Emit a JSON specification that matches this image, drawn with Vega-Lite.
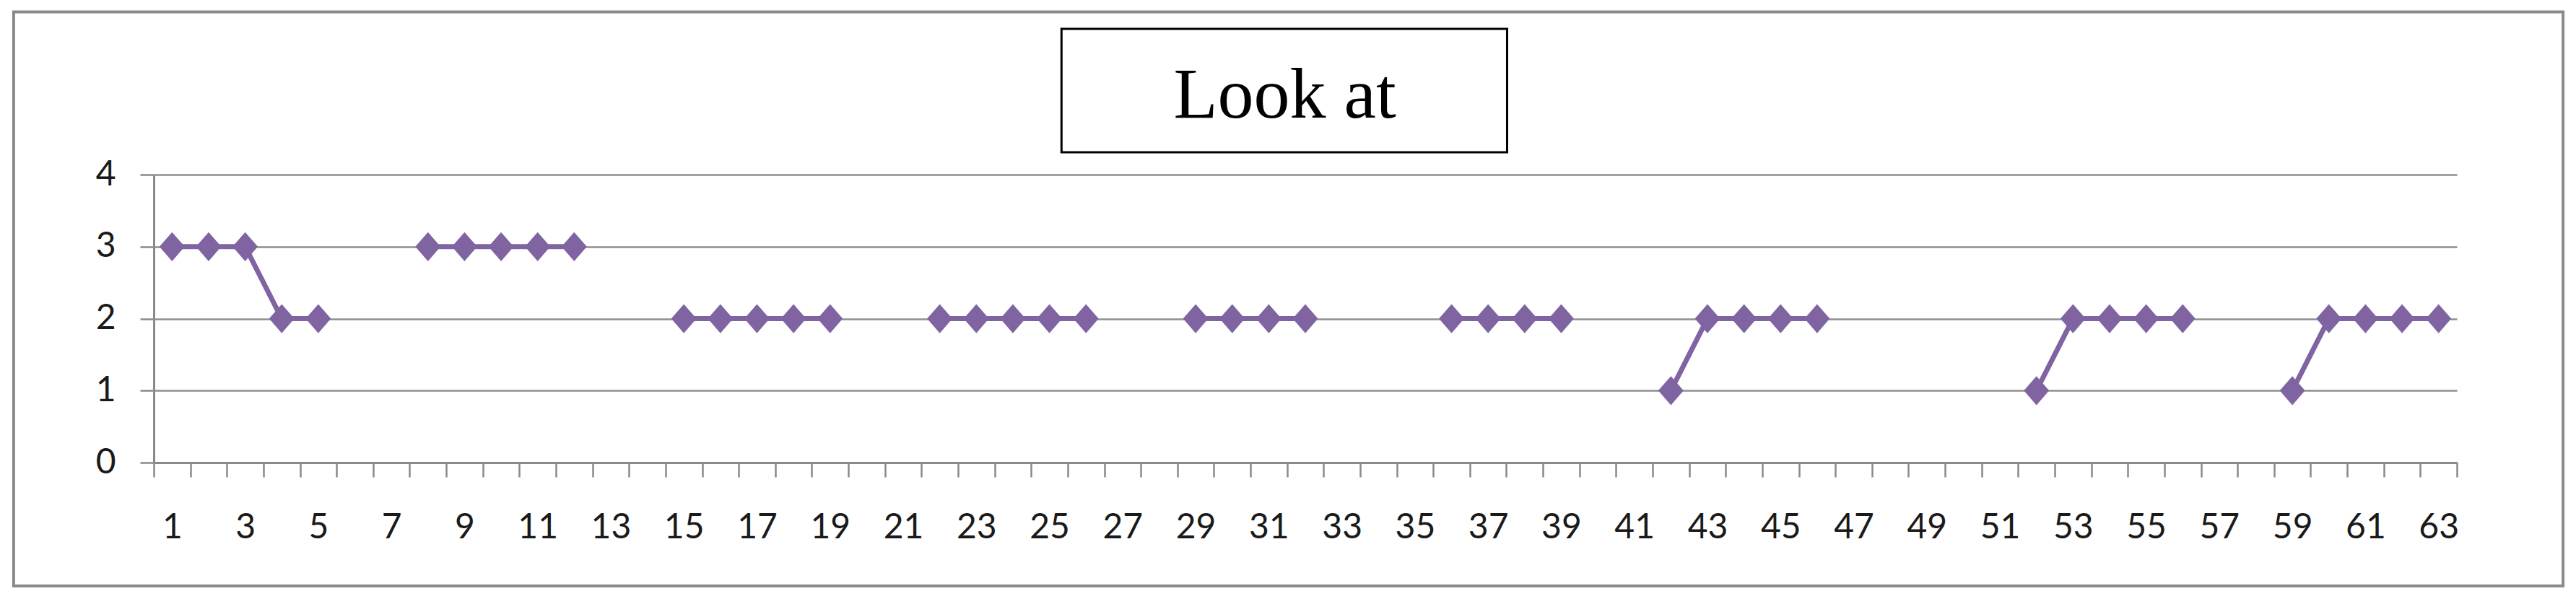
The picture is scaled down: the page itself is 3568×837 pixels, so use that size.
{
  "$schema": "https://vega.github.io/schema/vega-lite/v6.json",
  "width": 3190,
  "height": 399,
  "padding": {"left": 16, "top": 14, "right": 18, "bottom": 20},
  "background": "white",
  "config": {"view": {"stroke": null}},
  "resolve": {"axis": {"x": "independent"}},
  "layer": [
    {
      "data": {"values": [{}]},
      "mark": {"type": "rect", "fill": null, "stroke": "#8a8a8a", "strokeWidth": 4},
      "encoding": {
        "x": {
          "datum": -3.333, "type": "quantitative",
          "scale": {"domain": [0.5, 63.5], "nice": false, "zero": false},
          "axis": {
            "orient": "bottom",
            "values": [1,3,5,7,9,11,13,15,17,19,21,23,25,27,29,31,33,35,37,39,41,43,45,47,49,51,53,55,57,59,61,63],
            "format": "d",
            "labelOverlap": false,
            "labelBound": false,
            "labelFlush": false,
            "labelFont": "Lato",
            "labelFontSize": 48,
            "labelColor": "#1a1a1a",
            "labelPadding": 66,
            "ticks": false,
            "domainColor": "#8a8a8a",
            "domainWidth": 3,
            "grid": false,
            "title": null
          }
        },
        "x2": {"datum": 66.404},
        "y": {
          "datum": 6.261, "type": "quantitative",
          "scale": {"domain": [0, 4], "nice": false, "zero": false},
          "axis": {
            "values": [0, 1, 2, 3, 4],
            "format": "d",
            "grid": true,
            "gridColor": "#8f8f8f",
            "gridWidth": 2.5,
            "domainColor": "#8a8a8a",
            "domainWidth": 3,
            "tickColor": "#8a8a8a",
            "tickWidth": 2.5,
            "tickSize": 19,
            "labelFont": "Lato",
            "labelFontSize": 48,
            "labelColor": "#1a1a1a",
            "labelPadding": 34,
            "title": null
          }
        },
        "y2": {"datum": -1.714}
      }
    },
    {
      "data": {"values": [{}]},
      "mark": {"type": "rect", "fill": "white", "stroke": "black", "strokeWidth": 3},
      "encoding": {
        "x": {
          "datum": 25.33, "type": "quantitative",
          "axis": {
            "orient": "bottom",
            "values": [0.5,1.5,2.5,3.5,4.5,5.5,6.5,7.5,8.5,9.5,10.5,11.5,12.5,13.5,14.5,15.5,16.5,17.5,18.5,19.5,20.5,21.5,22.5,23.5,24.5,25.5,26.5,27.5,28.5,29.5,30.5,31.5,32.5,33.5,34.5,35.5,36.5,37.5,38.5,39.5,40.5,41.5,42.5,43.5,44.5,45.5,46.5,47.5,48.5,49.5,50.5,51.5,52.5,53.5,54.5,55.5,56.5,57.5,58.5,59.5,60.5,61.5,62.5,63.5],
            "labels": false,
            "domain": false,
            "grid": false,
            "tickSize": 20,
            "tickWidth": 2.5,
            "tickColor": "#8a8a8a",
            "title": null
          }
        },
        "x2": {"datum": 37.52},
        "y": {"datum": 6.025, "type": "quantitative"},
        "y2": {"datum": 4.311}
      }
    },
    {
      "data": {"values": [{"label": "Look at"}]},
      "mark": {"type": "text", "font": "Liberation Serif", "fontSize": 100, "align": "center", "baseline": "alphabetic", "color": "black"},
      "encoding": {
        "x": {"datum": 31.44, "type": "quantitative", "axis": null},
        "y": {"datum": 4.79, "type": "quantitative"},
        "text": {"field": "label"}
      }
    },
    {
      "data": {"name": "series"},
      "mark": {"type": "line", "color": "#8064A2", "strokeWidth": 7, "invalid": "break-paths-filter-domains"},
      "encoding": {
        "x": {"field": "x", "type": "quantitative", "axis": null},
        "y": {"field": "value", "type": "quantitative", "title": null}
      }
    },
    {
      "data": {"name": "series"},
      "mark": {"type": "point", "shape": "M-1,0L0,-1.15L1,0L0,1.15Z", "size": 1225, "filled": true, "opacity": 1, "color": "#8064A2", "invalid": "filter"},
      "encoding": {
        "x": {"field": "x", "type": "quantitative", "axis": null},
        "y": {"field": "value", "type": "quantitative", "title": null}
      }
    }
  ],
  "datasets": {
    "series": [
      {"x": 1, "value": 3}, {"x": 2, "value": 3}, {"x": 3, "value": 3}, {"x": 4, "value": 2}, {"x": 5, "value": 2},
      {"x": 6, "value": null}, {"x": 7, "value": null},
      {"x": 8, "value": 3}, {"x": 9, "value": 3}, {"x": 10, "value": 3}, {"x": 11, "value": 3}, {"x": 12, "value": 3},
      {"x": 13, "value": null}, {"x": 14, "value": null},
      {"x": 15, "value": 2}, {"x": 16, "value": 2}, {"x": 17, "value": 2}, {"x": 18, "value": 2}, {"x": 19, "value": 2},
      {"x": 20, "value": null}, {"x": 21, "value": null},
      {"x": 22, "value": 2}, {"x": 23, "value": 2}, {"x": 24, "value": 2}, {"x": 25, "value": 2}, {"x": 26, "value": 2},
      {"x": 27, "value": null}, {"x": 28, "value": null},
      {"x": 29, "value": 2}, {"x": 30, "value": 2}, {"x": 31, "value": 2}, {"x": 32, "value": 2},
      {"x": 33, "value": null}, {"x": 34, "value": null}, {"x": 35, "value": null},
      {"x": 36, "value": 2}, {"x": 37, "value": 2}, {"x": 38, "value": 2}, {"x": 39, "value": 2},
      {"x": 40, "value": null}, {"x": 41, "value": null},
      {"x": 42, "value": 1}, {"x": 43, "value": 2}, {"x": 44, "value": 2}, {"x": 45, "value": 2}, {"x": 46, "value": 2},
      {"x": 47, "value": null}, {"x": 48, "value": null}, {"x": 49, "value": null}, {"x": 50, "value": null}, {"x": 51, "value": null},
      {"x": 52, "value": 1}, {"x": 53, "value": 2}, {"x": 54, "value": 2}, {"x": 55, "value": 2}, {"x": 56, "value": 2},
      {"x": 57, "value": null}, {"x": 58, "value": null},
      {"x": 59, "value": 1}, {"x": 60, "value": 2}, {"x": 61, "value": 2}, {"x": 62, "value": 2}, {"x": 63, "value": 2}
    ]
  }
}
